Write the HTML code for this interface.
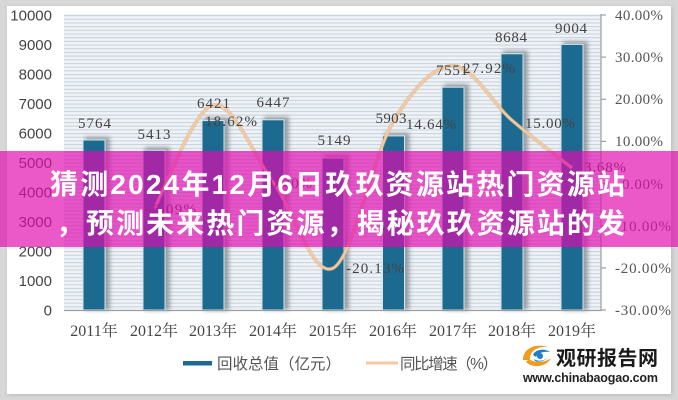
<!DOCTYPE html>
<html>
<head>
<meta charset="utf-8">
<style>
html,body{margin:0;padding:0;background:#d7d7d7;}
svg{display:block;}
</style>
</head>
<body>
<svg width="678" height="400" viewBox="0 0 678 400" xmlns="http://www.w3.org/2000/svg">
  <defs>
    <pattern id="stripes" patternUnits="userSpaceOnUse" x="0" y="15" width="10" height="3.6875">
      <rect x="0" y="0" width="10" height="3.6875" fill="#eef3f8"/>
      <rect x="0" y="0" width="10" height="1.1" fill="#cbd3da"/>
    </pattern>
    <filter id="shadow" x="-50%" y="-50%" width="200%" height="200%">
      <feGaussianBlur stdDeviation="2.2"/>
    </filter>
    <filter id="frameShadow" x="-5%" y="-5%" width="110%" height="110%">
      <feGaussianBlur stdDeviation="2"/>
    </filter>
  </defs>

  <!-- frame -->
  <rect x="0" y="0" width="678" height="400" fill="#d7d7d7"/>
  <rect x="8" y="7" width="664" height="388" fill="#b8b8b8" filter="url(#frameShadow)"/>
  <rect x="7" y="6" width="664" height="388" fill="#ffffff"/>

  <!-- plot area -->
  <rect x="64" y="14" width="537" height="296" fill="url(#stripes)"/>

  <!-- bar shadows -->
  <g fill="#7d868c" opacity="0.75" filter="url(#shadow)">
    <rect x="85" y="137" width="25" height="173"/>
    <rect x="145" y="147.3" width="25" height="163"/>
    <rect x="204" y="117.6" width="25" height="193"/>
    <rect x="264" y="116.8" width="25" height="193"/>
    <rect x="324" y="155.1" width="25" height="155"/>
    <rect x="384.5" y="132.9" width="25" height="177"/>
    <rect x="444" y="84.2" width="25" height="226"/>
    <rect x="503" y="50.8" width="25" height="259"/>
    <rect x="563" y="41.4" width="25" height="269"/>
  </g>

  <!-- bars -->
  <g fill="#1c6a8f" stroke="#d4e6f0" stroke-width="1">
    <rect x="83" y="140" width="22" height="170"/>
    <rect x="143" y="150.3" width="22" height="159.7"/>
    <rect x="202" y="120.6" width="22" height="189.4"/>
    <rect x="262" y="119.8" width="22" height="190.2"/>
    <rect x="322" y="158.1" width="22" height="151.9"/>
    <rect x="382.5" y="135.9" width="22" height="174.1"/>
    <rect x="442" y="87.2" width="22" height="222.8"/>
    <rect x="501" y="53.8" width="22" height="256.2"/>
    <rect x="561" y="44.4" width="22" height="265.6"/>
  </g>

  <!-- axes -->
  <line x1="64" y1="310.5" x2="601" y2="310.5" stroke="#9aa0a4" stroke-width="1.2"/>
  <line x1="601" y1="14" x2="601" y2="311" stroke="#9aa0a4" stroke-width="1.2"/>
  <g stroke="#9aa0a4" stroke-width="1.2">
    <line x1="601" y1="15" x2="606" y2="15"/>
    <line x1="601" y1="57.1" x2="606" y2="57.1"/>
    <line x1="601" y1="99.3" x2="606" y2="99.3"/>
    <line x1="601" y1="141.4" x2="606" y2="141.4"/>
    <line x1="601" y1="183.6" x2="606" y2="183.6"/>
    <line x1="601" y1="225.7" x2="606" y2="225.7"/>
    <line x1="601" y1="267.9" x2="606" y2="267.9"/>
    <line x1="601" y1="310" x2="606" y2="310"/>
  </g>

  <!-- left axis labels -->
  <g font-family="'Liberation Sans', sans-serif" font-size="15" fill="#444" text-anchor="end">
    <text x="52" y="20.5">10000</text>
    <text x="52" y="50">9000</text>
    <text x="52" y="79.5">8000</text>
    <text x="52" y="109">7000</text>
    <text x="52" y="138.5">6000</text>
    <text x="52" y="168">5000</text>
    <text x="52" y="197.5">4000</text>
    <text x="52" y="227">3000</text>
    <text x="52" y="256.5">2000</text>
    <text x="52" y="286">1000</text>
    <text x="52" y="315.5">0</text>
  </g>

  <!-- right axis labels -->
  <g font-family="'Liberation Serif', serif" font-size="15" fill="#555">
    <text x="615" y="20" textLength="48">40.00%</text>
    <text x="615" y="62" textLength="48">30.00%</text>
    <text x="615" y="104" textLength="48">20.00%</text>
    <text x="615" y="146" textLength="48">10.00%</text>
    <text x="622" y="189" textLength="41">0.00%</text>
    <text x="615" y="231" textLength="56">-10.00%</text>
    <text x="615" y="273" textLength="56">-20.00%</text>
    <text x="615" y="315" textLength="56">-30.00%</text>
  </g>

  <!-- category labels -->
  <g font-family="'Liberation Serif', 'Noto Serif CJK SC', serif" font-size="16" fill="#444" text-anchor="middle">
    <text x="94" y="336">2011年</text>
    <text x="154" y="336">2012年</text>
    <text x="213" y="336">2013年</text>
    <text x="273" y="336">2014年</text>
    <text x="333" y="336">2015年</text>
    <text x="393" y="336">2016年</text>
    <text x="453" y="336">2017年</text>
    <text x="512" y="336">2018年</text>
    <text x="572" y="336">2019年</text>
  </g>

  <!-- growth line -->
  <path d="M154,209.2 C163.8,191.9 193.2,109.7 213,105.1 C232.8,100.5 253,154.7 273,181.9 C293,209.1 313,278.2 333,268.2 C353,258.2 373,155.7 393,122 C413,88.3 433.2,66.2 453,65.9 C472.8,65.6 492.2,103.4 512,120.4 C531.8,137.4 562,160.1 572,168"
        fill="none" stroke="#c9a98a" stroke-width="4" opacity="0.5"/>
  <path d="M154,209.2 C163.8,191.9 193.2,109.7 213,105.1 C232.8,100.5 253,154.7 273,181.9 C293,209.1 313,278.2 333,268.2 C353,258.2 373,155.7 393,122 C413,88.3 433.2,66.2 453,65.9 C472.8,65.6 492.2,103.4 512,120.4 C531.8,137.4 562,160.1 572,168"
        fill="none" stroke="#f6c89e" stroke-width="2.6"/>

  <!-- bar value labels -->
  <g font-family="'Liberation Serif', serif" font-size="15" fill="#444" text-anchor="middle">
    <text x="94.5" y="128" textLength="33">5764</text>
    <text x="154" y="139" textLength="33">5413</text>
    <text x="213.5" y="108" textLength="33">6421</text>
    <text x="273" y="107" textLength="33">6447</text>
    <text x="334" y="145" textLength="33">5149</text>
    <text x="391" y="123" textLength="31">5903</text>
    <text x="452" y="75" textLength="32">7551</text>
    <text x="511" y="42" textLength="32">8684</text>
    <text x="571" y="33" textLength="32">9004</text>
  </g>

  <!-- line value labels -->
  <g font-family="'Liberation Serif', serif" font-size="15" fill="#444">
    <text x="146" y="214" textLength="50">-6.09%</text>
    <text x="205" y="126" textLength="52">18.62%</text>
    <text x="270" y="188" textLength="42">0.40%</text>
    <text x="346" y="273" textLength="58">-20.13%</text>
    <text x="406" y="129" textLength="50">14.64%</text>
    <text x="463" y="73" textLength="52">27.92%</text>
    <text x="525" y="128" textLength="50">15.00%</text>
    <text x="584" y="172" textLength="42">3.68%</text>
  </g>

  <!-- legend -->
  <rect x="183" y="361" width="29" height="4.5" fill="#1c6a8f"/>
  <text x="217" y="369" font-family="'Liberation Sans', 'Noto Sans CJK SC', sans-serif" font-size="15.5" fill="#555" textLength="124">回收总值（亿元）</text>
  <rect x="366" y="361.5" width="32" height="3" fill="#f6c9a2"/>
  <text x="400" y="369" font-family="'Liberation Sans', 'Noto Sans CJK SC', sans-serif" font-size="15.5" fill="#555" textLength="98">同比增速（%）</text>

  <!-- logo -->
  <g>
    <path d="M523,360 C523,348 536,343 548,347 C538,346 529,351 530,360 Z" fill="#f39a1e"/>
    <path d="M526,362 C532,368 546,368 551,358 C546,362 536,364 529,359 Z" fill="#f39a1e"/>
    <path d="M533,355 C535,349 545,348 550,352 C544,351 538,353 536,357 Z" fill="#1f7fc4"/>
    <path d="M534,359 C538,362 546,361 549,356 C547,360 540,363 535,361 Z" fill="#1f7fc4"/>
    <circle cx="540" cy="356" r="3" fill="#1f7fc4"/>
  </g>
  <text x="556" y="365" font-family="'Liberation Sans', 'Noto Sans CJK SC', sans-serif" font-size="20" font-weight="bold" fill="#1a1a1a" textLength="102">观研报告网</text>
  <text x="523" y="382" font-family="'Liberation Sans', sans-serif" font-size="12.5" font-weight="bold" fill="#222" textLength="135">www.chinabaogao.com</text>

  <!-- banner overlay -->
  <rect x="0" y="151" width="678" height="96" fill="rgb(225,10,175)" fill-opacity="0.68"/>
  <g font-family="'Liberation Sans', 'Noto Sans CJK SC', sans-serif" font-size="28" font-weight="bold" fill="#ffffff">
    <text x="50" y="194" textLength="575">猜测2024年12月6日玖玖资源站热门资源站</text>
    <text x="56" y="233" textLength="569">，预测未来热门资源，揭秘玖玖资源站的发</text>
  </g>
</svg>
</body>
</html>
